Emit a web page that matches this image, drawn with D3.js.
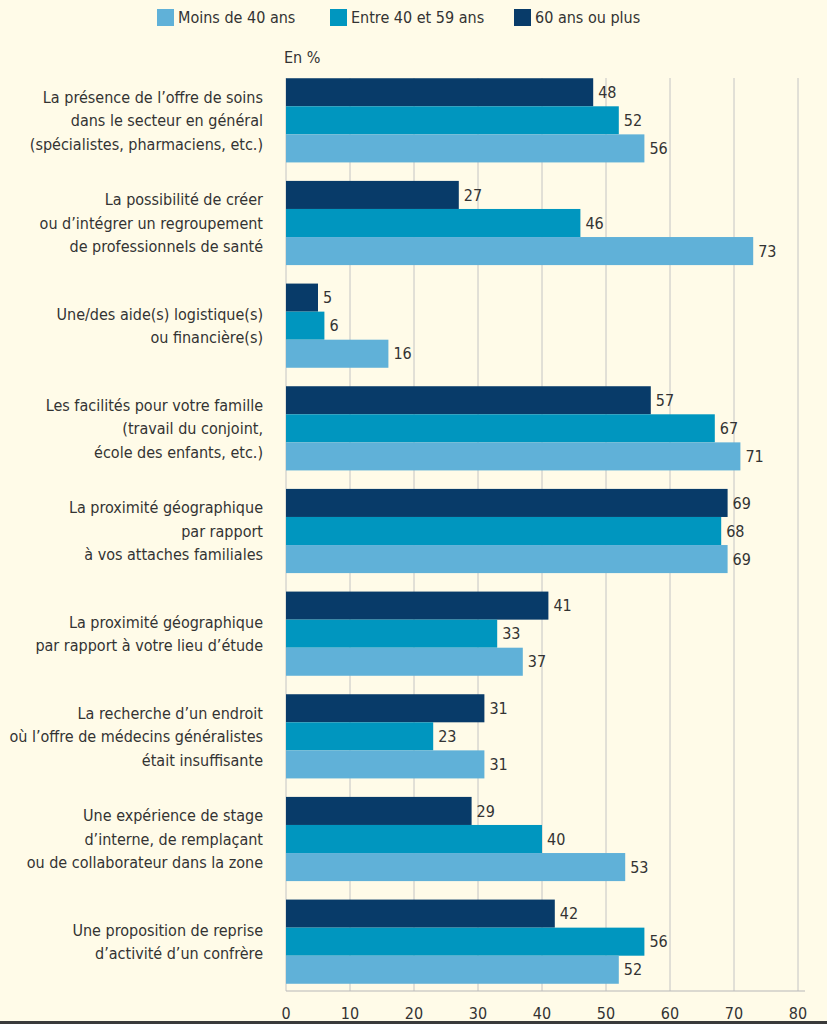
<!DOCTYPE html>
<html>
<head>
<meta charset="utf-8">
<script src="https://cdn.jsdelivr.net/npm/d3@7"></script>
<style>
  body { margin: 0; background: #fffbe8; }
  svg { display: block; }
  text { font-family: "Liberation Sans Narrow", "DejaVu Sans Condensed", "Roboto", sans-serif; fill: #333; }
</style>
</head>
<body>
<svg id="chart" width="827" height="1024"></svg>
<script>
const categories = [
  ["La présence de l\u2019offre de soins", "dans le secteur en général", "(spécialistes, pharmaciens, etc.)"],
  ["La possibilité de créer", "ou d\u2019intégrer un regroupement", "de professionnels de santé"],
  ["Une/des aide(s) logistique(s)", "ou financière(s)"],
  ["Les facilités pour votre famille", "(travail du conjoint,", "école des enfants, etc.)"],
  ["La proximité géographique", "par rapport", "à vos attaches familiales"],
  ["La proximité géographique", "par rapport à votre lieu d\u2019étude"],
  ["La recherche d\u2019un endroit", "où l\u2019offre de médecins généralistes", "était insuffisante"],
  ["Une expérience de stage", "d\u2019interne, de remplaçant", "ou de collaborateur dans la zone"],
  ["Une proposition de reprise", "d\u2019activité d\u2019un confrère"]
];
const seriesNames = ["60 ans ou plus", "Entre 40 et 59 ans", "Moins de 40 ans"];
const legendOrder = ["Moins de 40 ans", "Entre 40 et 59 ans", "60 ans ou plus"];
const plus60 = [48, 27, 5, 57, 69, 41, 31, 29, 42];
const between40and59 = [52, 46, 6, 67, 68, 33, 23, 40, 56];
const under40 = [56, 73, 16, 71, 69, 37, 31, 53, 52];
const xTicks = [0, 10, 20, 30, 40, 50, 60, 70, 80];
const colors = { "60 ans ou plus": "#083b69", "Entre 40 et 59 ans": "#0096bf", "Moins de 40 ans": "#60b1d8" };

const svg = d3.select("#chart");
const values = [plus60, between40and59, under40];
const rows = categories.map((c, i) => ({
  key: i,
  lines: c,
  vals: seriesNames.map((s, j) => ({ name: s, value: values[j][i] }))
}));

const xScale = d3.scaleLinear().domain([0, 80]).range([286, 798]);
const yScale = d3.scaleBand()
  .domain(rows.map((d) => d.key))
  .range([69, 993])
  .paddingInner(0.18)
  .paddingOuter(0.09);
const inner = d3.scaleBand().domain(seriesNames).range([0, yScale.bandwidth()]);
const axisY = 991;

// grid
svg.append("g")
  .selectAll("line")
  .data(xTicks)
  .join("line")
  .attr("x1", (d) => xScale(d))
  .attr("x2", (d) => xScale(d))
  .attr("y1", 78)
  .attr("y2", axisY)
  .attr("stroke", "#c4c4c4")
  .attr("stroke-width", 1);

svg.append("line")
  .attr("x1", xScale(0)).attr("x2", 805)
  .attr("y1", axisY).attr("y2", axisY)
  .attr("stroke", "#b8b8b8").attr("stroke-width", 1.2);

// bars
const groups = svg.append("g")
  .selectAll("g")
  .data(rows)
  .join("g")
  .attr("transform", (d) => `translate(0, ${yScale(d.key)})`);

groups.selectAll("rect")
  .data((d) => d.vals)
  .join("rect")
  .attr("x", xScale(0))
  .attr("y", (d) => inner(d.name))
  .attr("width", (d) => xScale(d.value) - xScale(0))
  .attr("height", inner.bandwidth())
  .attr("fill", (d) => colors[d.name]);

groups.selectAll("text.val")
  .data((d) => d.vals)
  .join("text")
  .attr("class", "val")
  .attr("x", (d) => xScale(d.value) + 5)
  .attr("y", (d) => inner(d.name) + inner.bandwidth() / 2)
  .attr("dy", "0.36em")
  .style("font-size", "16px")
  .text((d) => d.value);

// category labels
groups.append("text")
  .attr("text-anchor", "end")
  .style("font-size", "16px")
  .selectAll("tspan")
  .data((d) => d.lines.map((l, i) => ({ l, i, n: d.lines.length })))
  .join("tspan")
  .attr("x", 263)
  .attr("y", (d) => yScale.bandwidth() / 2 + (d.i - (d.n - 1) / 2) * 23.5)
  .attr("dy", "0.36em")
  .text((d) => d.l);

// x axis labels
svg.append("g")
  .selectAll("text")
  .data(xTicks)
  .join("text")
  .attr("x", (d) => xScale(d))
  .attr("y", 1019)
  .attr("text-anchor", "middle")
  .style("font-size", "16px")
  .text((d) => d);

svg.append("rect")
  .attr("x", 0).attr("y", 1021).attr("width", 827).attr("height", 3)
  .attr("fill", "#3a3a3a");

svg.append("text")
  .attr("x", 284).attr("y", 63)
  .style("font-size", "16px")
  .text("En %");

// legend
const legendX = [157, 330, 514];
const legend = svg.append("g")
  .selectAll("g")
  .data(legendOrder)
  .join("g")
  .attr("transform", (d, i) => `translate(${legendX[i]}, 9)`);
legend.append("rect")
  .attr("width", 17).attr("height", 17)
  .attr("fill", (d) => colors[d]);
legend.append("text")
  .attr("x", 21).attr("y", 8.5).attr("dy", "0.36em")
  .style("font-size", "16px")
  .text((d) => d);
</script>
</body>
</html>
